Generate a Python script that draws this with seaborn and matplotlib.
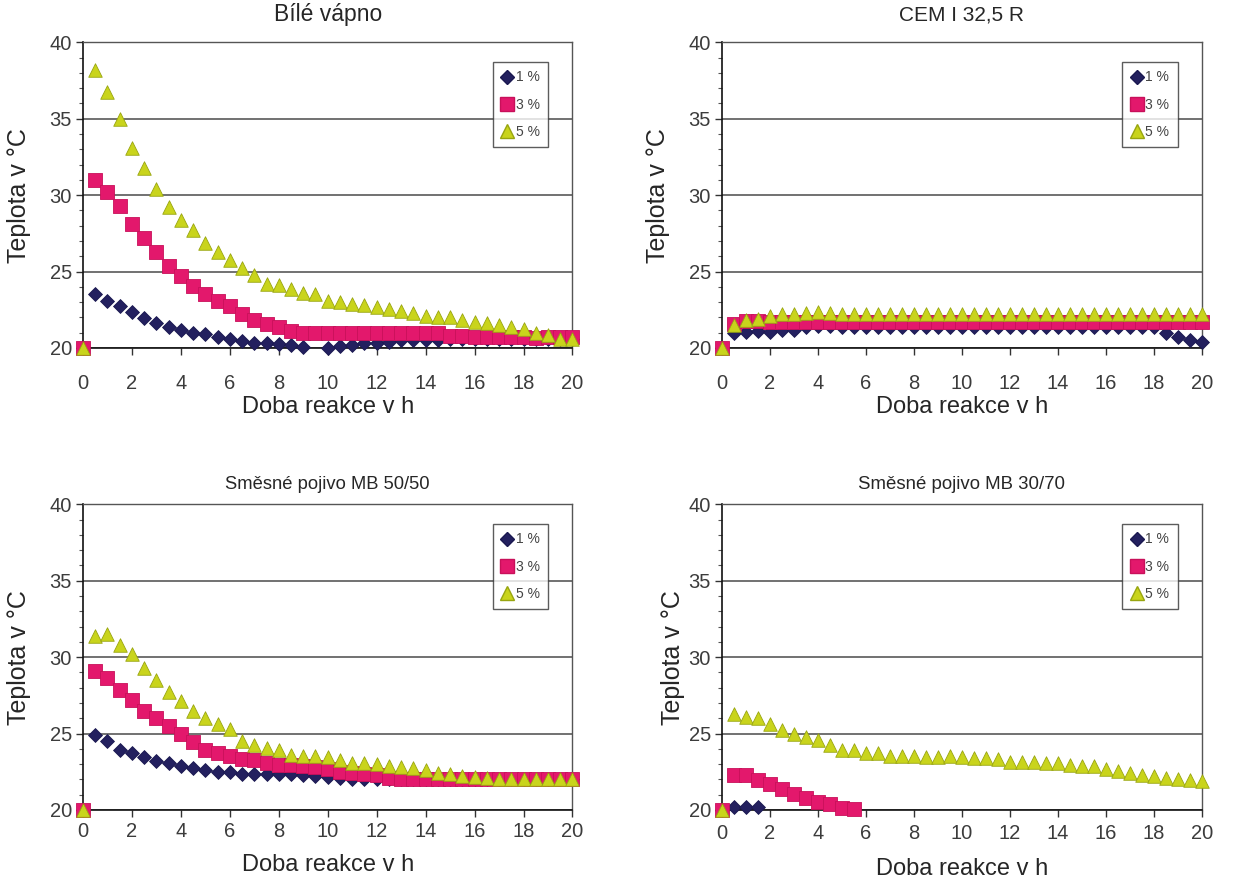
"""
Teplota reakce pojiv v case - ctyri panely
"""

import matplotlib
matplotlib.use('Agg')
import matplotlib.pyplot as plt
from matplotlib.lines import Line2D
from matplotlib.ticker import MultipleLocator
import seaborn as sns
import numpy as np
import pandas as pd

nan = np.nan

# doba reakce v h
time = [0, 0.5, 1, 1.5, 2, 2.5, 3, 3.5, 4, 4.5, 5, 5.5, 6, 6.5, 7, 7.5, 8, 8.5, 9, 9.5,
        10, 10.5, 11, 11.5, 12, 12.5, 13, 13.5, 14, 14.5, 15, 15.5, 16, 16.5, 17, 17.5,
        18, 18.5, 19, 19.5, 20]

series_labels = ['1 %', '3 %', '5 %']

# Bile vapno
bv_1 = [20.0, 23.5, 23.1, 22.75, 22.35, 21.95, 21.65, 21.4, 21.15, 21.0, 20.9, 20.75,
        20.6, 20.45, 20.35, 20.3, 20.25, 20.2, 20.05, nan, 20.0, 20.15, 20.2, 20.3,
        20.35, 20.4, 20.5, 20.5, 20.5, 20.55, 20.6, 20.6, 20.6, 20.6, 20.6, 20.6, 20.6,
        20.6, 20.6, 20.6, 20.6]
bv_3 = [20.0, 31.0, 30.2, 29.3, 28.1, 27.2, 26.3, 25.35, 24.7, 24.05, 23.5, 23.1,
        22.75, 22.2, 21.8, 21.55, 21.4, 21.1, 21.0, 21.0, 21.0, 21.0, 21.0, 21.0, 21.0,
        21.0, 21.0, 21.0, 21.0, 21.0, 20.8, 20.8, 20.75, 20.75, 20.7, 20.7, 20.7, 20.65,
        20.7, 20.7, 20.7]
bv_5 = [20.0, 38.2, 36.75, 35.0, 33.1, 31.8, 30.4, 29.2, 28.4, 27.7, 26.85, 26.3,
        25.75, 25.25, 24.8, 24.2, 24.1, 23.85, 23.6, 23.5, 23.05, 23.0, 22.9, 22.8, 22.7,
        22.55, 22.4, 22.3, 22.1, 22.05, 22.0, 21.8, 21.7, 21.65, 21.5, 21.4, 21.25, 21.0,
        20.85, 20.6, 20.6]

# CEM I 32,5 R
cem_1 = [20.0, 21.0, 21.05, 21.1, 21.05, 21.15, 21.15, 21.35, 21.45, 21.45, 21.4, 21.4,
         21.4, 21.4, 21.4, 21.4, 21.4, 21.4, 21.4, 21.4, 21.4, 21.4, 21.4, 21.4, 21.4,
         21.4, 21.4, 21.4, 21.4, 21.4, 21.4, 21.4, 21.4, 21.4, 21.4, 21.4, 21.4, 21.0,
         20.75, 20.55, 20.4]
cem_3 = [20.0, 21.6, 21.75, 21.75, 21.7, 21.7, 21.7, 21.7, 21.7, 21.7, 21.7, 21.7,
         21.7, 21.7, 21.7, 21.7, 21.7, 21.7, 21.7, 21.7, 21.7, 21.7, 21.7, 21.7, 21.7,
         21.7, 21.7, 21.7, 21.7, 21.7, 21.7, 21.7, 21.7, 21.7, 21.7, 21.7, 21.7, 21.7,
         21.7, 21.7, 21.7]
cem_5 = [20.0, 21.5, 21.8, 21.9, 22.1, 22.2, 22.2, 22.3, 22.35, 22.3, 22.2, 22.25,
         22.2, 22.2, 22.25, 22.2, 22.2, 22.25, 22.2, 22.2, 22.25, 22.2, 22.2, 22.25, 22.2,
         22.2, 22.25, 22.2, 22.2, 22.25, 22.2, 22.2, 22.25, 22.2, 22.2, 22.25, 22.2, 22.2,
         22.25, 22.2, 22.2]

# Smesne pojivo MB 50/50
mb55_1 = [20.0, 24.9, 24.5, 23.95, 23.7, 23.45, 23.2, 23.05, 22.9, 22.75, 22.6, 22.5,
          22.5, 22.35, 22.35, 22.35, 22.35, 22.35, 22.3, 22.25, 22.15, 22.1, 22.0, 22.0,
          22.0, 22.0, 22.0, 22.0, 22.0, 22.0, 22.0, 22.0, 22.0, 22.0, 22.0, 22.0, 22.0,
          22.0, 22.0, 22.0, 22.0]
mb55_3 = [20.0, 29.1, 28.65, 27.85, 27.2, 26.5, 26.0, 25.5, 24.95, 24.45, 23.95, 23.7,
          23.55, 23.35, 23.25, 23.05, 22.95, 22.95, 22.85, 22.8, 22.7, 22.5, 22.4, 22.35,
          22.3, 22.1, 22.0, 22.0, 22.0, 22.0, 22.0, 22.0, 22.0, 22.0, 22.0, 22.0, 22.0,
          22.0, 22.0, 22.0, 22.0]
mb55_5 = [20.0, 31.4, 31.5, 30.8, 30.2, 29.3, 28.5, 27.7, 27.1, 26.5, 26.0, 25.6,
          25.3, 24.5, 24.25, 24.05, 23.9, 23.6, 23.55, 23.55, 23.45, 23.3, 23.1, 23.05,
          23.0, 22.9, 22.8, 22.75, 22.6, 22.45, 22.35, 22.25, 22.15, 22.1, 22.05, 22.05,
          22.0, 22.0, 22.0, 22.0, 22.0]

# Smesne pojivo MB 30/70
mb37_1 = [20.0, 20.2, 20.2, 20.2]
mb37_3 = [20.0, 22.3, 22.3, 21.95, 21.7, 21.4, 21.05, 20.8, 20.55, 20.4, 20.15, 20.05]
mb37_5 = [20.0, 26.3, 26.1, 26.0, 25.65, 25.25, 25.0, 24.8, 24.6, 24.25, 23.95, 23.9,
          23.75, 23.7, 23.55, 23.55, 23.55, 23.45, 23.45, 23.5, 23.45, 23.4, 23.4, 23.35,
          23.15, 23.15, 23.15, 23.1, 23.05, 22.95, 22.9, 22.85, 22.7, 22.55, 22.45, 22.3,
          22.2, 22.1, 22.05, 21.95, 21.9]

panels = [
    ('Bílé vápno', [bv_1, bv_3, bv_5]),
    ('CEM I 32,5 R', [cem_1, cem_3, cem_5]),
    ('Směsné pojivo MB 50/50', [mb55_1, mb55_3, mb55_5]),
    ('Směsné pojivo MB 30/70', [mb37_1, mb37_3, mb37_5]),
]

# layout per panel: axes rect, title size/pad, x tick pad, xlabel y, ylabel x
layout = [
    dict(rect=(0.0673, 0.605, 0.397, 0.347), tsize=16.5, tpad=15, xpad=14,
         xl_y=-0.156, yl_x=-0.106),
    dict(rect=(0.5856, 0.605, 0.389, 0.347), tsize=15, tpad=16, xpad=14,
         xl_y=-0.156, yl_x=-0.108),
    dict(rect=(0.0673, 0.0806, 0.397, 0.347), tsize=13.2, tpad=11, xpad=4,
         xl_y=-0.144, yl_x=-0.106),
    dict(rect=(0.5856, 0.0806, 0.389, 0.347), tsize=13.4, tpad=11, xpad=5,
         xl_y=-0.157, yl_x=-0.077),
]

colors = ['#23205f', '#e3186c', '#c9d41c']
edges = ['#1a1850', '#c8105a', '#98a510']
markers = ['D', 's', '^']
sizes = [50, 90, 95]

sns.set_style('ticks')
plt.rcParams['font.family'] = ['Liberation Sans', 'DejaVu Sans']

fig = plt.figure(figsize=(12.33, 8.81), dpi=100)

for (title, series), lay in zip(panels, layout):
    ax = fig.add_axes(lay['rect'])

    for label, values, c, ec, m, s in zip(series_labels, series, colors, edges, markers, sizes):
        df = pd.DataFrame({'t': time[:len(values)], 'T': values}).dropna()
        sns.scatterplot(data=df, x='t', y='T', ax=ax, color=c, marker=m, s=s,
                        edgecolor=ec, linewidth=0.6, clip_on=False, zorder=3)

    ax.set_xlim(0, 20)
    ax.set_ylim(20, 40)
    ax.set_xticks(range(0, 21, 2))
    ax.set_yticks([20, 25, 30, 35, 40])
    ax.yaxis.set_minor_locator(MultipleLocator(1))
    ax.tick_params(axis='both', which='major', direction='out', length=5, width=1,
                   color='#333333', labelcolor='#3c3c3c', labelsize=14.5)
    ax.tick_params(axis='x', which='major', pad=lay['xpad'])
    ax.tick_params(axis='y', which='major', pad=3)
    ax.tick_params(axis='y', which='minor', direction='out', length=3, width=0.8,
                   color='#555555')
    ax.yaxis.grid(True, color='#4a4a4a', linewidth=1.1)
    ax.xaxis.grid(False)
    ax.set_axisbelow(True)

    for side in ['left', 'bottom']:
        ax.spines[side].set_color('#111111')
        ax.spines[side].set_linewidth(1.2)
    for side in ['top', 'right']:
        ax.spines[side].set_visible(True)
        ax.spines[side].set_color('#555555')
        ax.spines[side].set_linewidth(1.0)

    ax.set_title(title, fontsize=lay['tsize'], pad=lay['tpad'])
    ax.set_xlabel('Doba reakce v h', fontsize=17)
    ax.xaxis.set_label_coords(0.5, lay['xl_y'])
    ax.set_ylabel('Teplota v °C', fontsize=18)
    ax.yaxis.set_label_coords(lay['yl_x'], 0.5)

    handles = [Line2D([], [], linestyle='none', marker=m, color=c, markeredgecolor=ec,
                      markersize=ms)
               for c, ec, m, ms in zip(colors, edges, markers, [7, 9.5, 9.5])]
    leg = ax.legend(handles, series_labels, loc='upper right', bbox_to_anchor=(0.95, 0.935),
                    fontsize=10, frameon=True, fancybox=False, handlelength=0.9,
                    handletextpad=0.15, borderpad=0.6, labelspacing=0.95, borderaxespad=0)
    leg.get_frame().set_edgecolor('#333333')
    leg.get_frame().set_linewidth(1.0)
    for txt in leg.get_texts():
        txt.set_color('#444444')

plt.savefig('out.png', dpi=100)
plt.close()
